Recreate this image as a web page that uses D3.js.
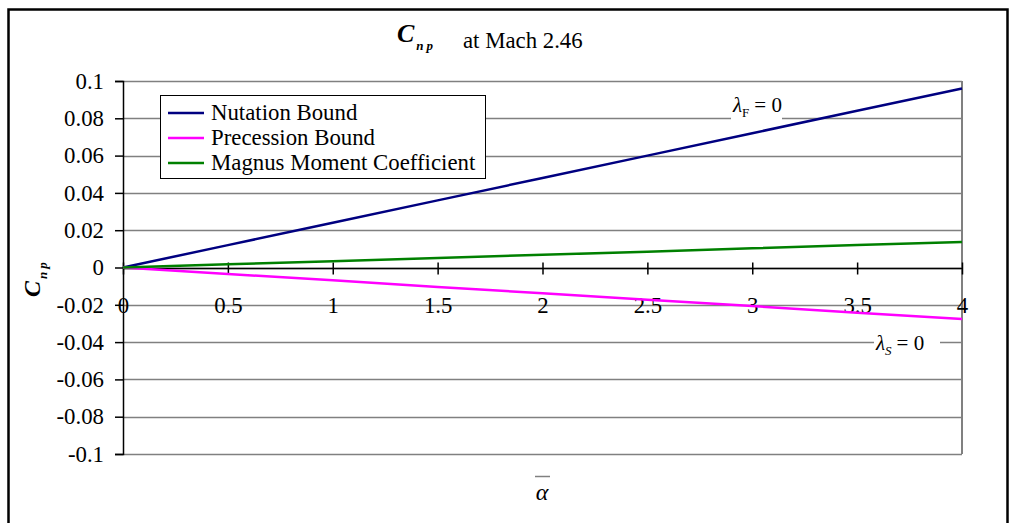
<!DOCTYPE html>
<html><head><meta charset="utf-8">
<script src="https://cdn.jsdelivr.net/npm/d3@7"></script>
<style>body{margin:0;background:#fff}svg{display:block}svg text{font-family:'Liberation Serif','Times New Roman',Times,'Nimbus Roman','DejaVu Serif',serif !important}</style>
</head><body><svg id="c" width="1012" height="523"></svg>
<script>
const alphaVals = [0, 0.5, 1, 1.5, 2, 2.5, 3, 3.5, 4];
const nutation = [0, 0.012, 0.024, 0.036, 0.048, 0.060, 0.072, 0.084, 0.096];
const precession = [0, -0.0035, -0.0069, -0.0104, -0.0138, -0.0173, -0.0207, -0.0242, -0.0276];
const magnus = [0, 0.0017, 0.0034, 0.0051, 0.0068, 0.0085, 0.0103, 0.0120, 0.0137];
const seriesNames = ["Nutation Bound", "Precession Bound", "Magnus Moment Coefficient"];
const seriesColors = ["#000080", "#FF00FF", "#008000"];
const xTicks = [0, 0.5, 1, 1.5, 2, 2.5, 3, 3.5, 4];
const yTicks = [-0.1, -0.08, -0.06, -0.04, -0.02, 0, 0.02, 0.04, 0.06, 0.08, 0.1];
const yTickLabels = ["-0.1", "-0.08", "-0.06", "-0.04", "-0.02", "0", "0.02", "0.04", "0.06", "0.08", "0.1"];

const SERIF = "'Liberation Serif','Times New Roman',Times,'Nimbus Roman','DejaVu Serif',serif";
const svg = d3.select("#c").attr("font-family", SERIF);
const L = 123, R = 962, T = 81, B = 454;
const x = d3.scaleLinear().domain([0, 4]).range([L, R]);
const y = d3.scaleLinear().domain([-0.1, 0.1]).range([B, T]);
const FS = 22.8;

// outer frame
svg.append("rect").attr("x", 8.5).attr("y", 9.5).attr("width", 999).attr("height", 540)
  .attr("fill", "none").attr("stroke", "#000").attr("stroke-width", 2.5);

// gridlines
svg.append("g").selectAll("line").data(yTicks).join("line")
  .attr("x1", L).attr("x2", R).attr("y1", d => Math.round(y(d)) + 0.5).attr("y2", d => Math.round(y(d)) + 0.5)
  .attr("stroke", "#808080").attr("stroke-width", 1.5);
svg.append("line").attr("x1", R).attr("x2", R).attr("y1", T).attr("y2", B)
  .attr("stroke", "#808080").attr("stroke-width", 2);

// y axis
const yAxis = d3.axisLeft(y).tickValues(yTicks).tickSize(8).tickPadding(11)
  .tickFormat((d, i) => yTickLabels[i]);
const gy = svg.append("g").attr("transform", `translate(${L},0)`).call(yAxis).attr("font-family", SERIF);
gy.select(".domain").attr("stroke", "#000").attr("stroke-width", 1.5);
gy.selectAll(".tick line").attr("stroke", "#000").attr("stroke-width", 1.5);
gy.selectAll("text").attr("font-size", FS).attr("fill", "#000");

// x axis at y=0
const xAxis = d3.axisBottom(x).tickValues(xTicks).tickSize(6).tickPadding(40)
  .tickFormat(d => String(d));
const gx = svg.append("g").attr("transform", `translate(0,${Math.round(y(0)) + 0.5})`).call(xAxis).attr("font-family", SERIF);
gx.select(".domain").attr("stroke", "#000").attr("stroke-width", 1.5).attr("d", `M${L},0H${R}`);
gx.selectAll(".tick line").attr("stroke", "#000").attr("stroke-width", 1.5).attr("y1", -6).attr("y2", 6);
gx.selectAll("text").attr("font-size", FS).attr("fill", "#000").attr("dy", "-0.05em");

// annotation labels on gridlines
function anno(cx, cy, sym, sub, bgX, bgW, gy0) {
  svg.append("rect").attr("x", bgX).attr("y", gy0 - 3).attr("width", bgW).attr("height", 6).attr("fill", "#fff");
  const t = svg.append("text").attr("x", cx).attr("y", cy).attr("font-size", 21).attr("fill", "#000");
  t.append("tspan").attr("font-style", "italic").text("λ");
  t.append("tspan").attr("font-size", 13).attr("dy", 5).attr("font-style", sub === "S" ? "italic" : "normal").text(sub);
  t.append("tspan").attr("dy", -5).attr("dx", 5).text("= 0");
}
anno(733, 112, "λ", "F", 731, 51, Math.round(y(0.08)) + 0.5);
anno(876, 350, "λ", "S", 874, 66, Math.round(y(-0.04)) + 0.5);

// lines
const allSeries = [nutation, precession, magnus];
const line = d3.line().x((d, i) => x(alphaVals[i])).y(d => y(d));
allSeries.forEach((s, k) => {
  svg.append("path").datum(s).attr("d", line).attr("fill", "none")
    .attr("stroke", seriesColors[k]).attr("stroke-width", 2.5);
});

// legend
const lg = svg.append("g");
lg.append("rect").attr("x", 160.5).attr("y", 95.5).attr("width", 325).attr("height", 83)
  .attr("fill", "#fff").attr("stroke", "#000").attr("stroke-width", 1);
seriesNames.forEach((n, i) => {
  const yy = 113 + i * 25;
  lg.append("line").attr("x1", 168).attr("x2", 204).attr("y1", yy).attr("y2", yy)
    .attr("stroke", seriesColors[i]).attr("stroke-width", 2.5);
  lg.append("text").attr("x", 211).attr("y", yy + 7).attr("font-size", FS).attr("fill", "#000").text(n);
});

// title
const tt = svg.append("text").attr("x", 397).attr("y", 42).attr("fill", "#000");
tt.append("tspan").attr("font-size", 26).attr("font-weight", "bold").attr("font-style", "italic").text("C");
tt.append("tspan").attr("font-size", 13).attr("font-weight", "bold").attr("font-style", "italic").attr("dy", 8).attr("dx", 2).text("n");
tt.append("tspan").attr("font-size", 13).attr("font-weight", "bold").attr("font-style", "italic").attr("dx", 3).text("p");
svg.append("text").attr("x", 463).attr("y", 48).attr("font-size", FS).attr("fill", "#000").text("at Mach 2.46");

// y axis title
const yt = svg.append("text").attr("transform", "translate(40,297) rotate(-90)").attr("fill", "#000");
yt.append("tspan").attr("font-size", 24).attr("font-weight", "bold").attr("font-style", "italic").text("C");
yt.append("tspan").attr("font-size", 13).attr("font-weight", "bold").attr("font-style", "italic").attr("dy", 7).attr("dx", 2).text("n");
yt.append("tspan").attr("font-size", 13).attr("font-weight", "bold").attr("font-style", "italic").attr("dx", 3).text("p");

// x axis title (alpha bar)
svg.append("text").attr("x", 542).attr("y", 500).attr("text-anchor", "middle").attr("font-size", 24)
  .attr("font-style", "italic").attr("fill", "#000").text("α");
svg.append("line").attr("x1", 535).attr("x2", 550).attr("y1", 476.5).attr("y2", 476.5)
  .attr("stroke", "#808080").attr("stroke-width", 1.5);
</script></body></html>
